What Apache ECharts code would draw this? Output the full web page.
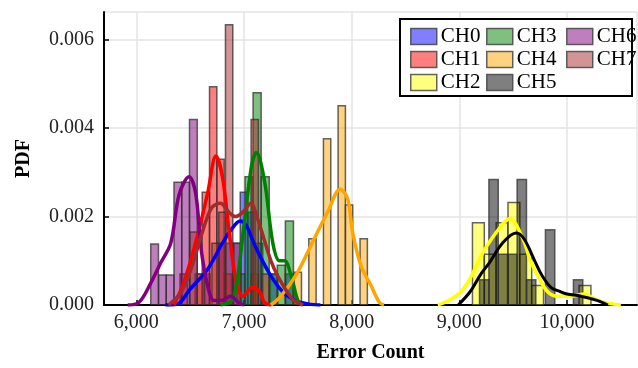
<!DOCTYPE html>
<html>
<head>
<meta charset="utf-8">
<title>ECharts</title>
<script src="https://cdn.jsdelivr.net/npm/echarts@6/dist/echarts.min.js"></script>
</head>
<body style="margin:0;background-color:#fff;">
<div id="main" style="width:638px;height:368px;"></div>
<script type="text/javascript">
var channels = ['CH0', 'CH1', 'CH2', 'CH3', 'CH4', 'CH5', 'CH6', 'CH7'];
var lineColors = ['#0000ff', '#ff0000', '#ffff00', '#008000', '#ffa500', '#000000', '#800080', '#a52a2a'];
var fillColors = ['rgba(0,0,255,0.5)', 'rgba(255,0,0,0.5)', 'rgba(255,255,0,0.5)', 'rgba(0,128,0,0.5)',
                  'rgba(255,165,0,0.5)', 'rgba(0,0,0,0.5)', 'rgba(128,0,128,0.5)', 'rgba(165,42,42,0.5)'];

// histogram bin width (error count units) per channel
var binWidth = [70, 68, 110, 75, 68, 87, 72, 68];

// histogram bins: [bin centre, density]
var histCH0 = [[6650, 0.0007], [6790, 0.0014], [6860, 0.0014], [6930, 0.0014], [7000, 0.00255],
               [7070, 0.0021], [7140, 0.0014], [7280, 0.0007], [7420, 0.0007]];
var histCH1 = [[6440, 0.0007], [6580, 0.0007], [6646, 0.00255], [6714, 0.00494], [6782, 0.0033],
               [6850, 0.0007], [7100, 0.0007]];
var histCH2 = [[9177, 0.00186], [9287, 0.00115], [9397, 0.00186], [9507, 0.00232], [9617, 0.00115],
               [9727, 0.00044], [10167, 0.00044]];
var histCH3 = [[6972, 0.0007], [7047, 0.0029], [7122, 0.0048], [7197, 0.0029], [7272, 0.0007],
               [7347, 0.0009], [7422, 0.0019]];
var histCH4 = [[7500, 0.00074], [7636, 0.0015], [7772, 0.00376], [7908, 0.00451], [7976, 0.00226],
               [8112, 0.0015]];
var histCH5 = [[9231, 0.00057], [9318, 0.00284], [9405, 0.00115], [9492, 0.00115], [9580, 0.00284],
               [9667, 0.00057], [9843, 0.0017], [10103, 0.00057]];
var histCH6 = [[6170, 0.00138], [6242, 0.00068], [6314, 0.00068], [6386, 0.00278], [6458, 0.00278],
               [6530, 0.0042]];
var histCH7 = [[6532, 0.00165], [6600, 0.0007], [6736, 0.0014], [6800, 0.0021], [6862, 0.00634],
               [6940, 0.0014], [7100, 0.0042], [7200, 0.0007]];

// kernel density curves: [error count, density]
var kdeCH0 = [[6270, 0], [6380, 0.00002], [6500, 0.00036], [6660, 0.0008], [6800, 0.0014], [6880, 0.0017],
              [6965, 0.0019], [7020, 0.0018], [7110, 0.0013], [7240, 0.0007], [7360, 0.0003], [7480, 0.0001],
              [7600, 0.00002], [7710, 0]];
var kdeCH1 = [[6350, 0], [6440, 0.0005], [6550, 0.0014], [6660, 0.0025], [6740, 0.00337], [6800, 0.0029],
              [6865, 0.0016], [6930, 0.0005], [6990, 0.0002], [7080, 0.0004], [7145, 0.0003], [7190, 0.00006],
              [7250, 0]];
var kdeCH2 = [[8800, 0], [8900, 0.0001], [9016, 0.0003], [9100, 0.0006], [9200, 0.0011], [9330, 0.0016],
              [9470, 0.00195], [9590, 0.0015], [9660, 0.001], [9730, 0.00066], [9820, 0.0003], [9914, 0.0002],
              [10040, 0.0002], [10160, 0.00025], [10250, 0.00015], [10345, 0.00006], [10500, 0]];
var kdeCH3 = [[6780, 0], [6900, 0.00015], [6990, 0.0016], [7067, 0.0031], [7115, 0.00345], [7191, 0.0028],
              [7268, 0.0014], [7330, 0.001], [7377, 0.001], [7438, 0.00066], [7500, 0.0001], [7540, 0]];
var kdeCH4 = [[7250, 0], [7344, 0.0002], [7498, 0.00074], [7652, 0.0015], [7776, 0.0021], [7894, 0.00262],
              [7963, 0.0024], [8009, 0.00164], [8086, 0.00089], [8180, 0.00044], [8257, 0.00006], [8300, 0]];
var kdeCH5 = [[8990, 0], [9100, 0.0003], [9200, 0.0007], [9280, 0.00096], [9400, 0.0014], [9527, 0.00163],
              [9600, 0.0015], [9700, 0.001], [9760, 0.0007], [9850, 0.0004], [9940, 0.0003], [10000, 0.00025],
              [10130, 0.0002], [10285, 0.0001], [10380, 0]];
var kdeCH6 = [[5920, 0], [6020, 0.00005], [6135, 0.0005], [6228, 0.00096], [6320, 0.0014], [6398, 0.0025],
              [6490, 0.0029], [6553, 0.0025], [6600, 0.0013], [6662, 0.00044], [6723, 0.0001], [6790, 0.0001],
              [6878, 0.0002], [6950, 0.00005], [7000, 0]];
var kdeCH7 = [[6300, 0], [6420, 0.0003], [6520, 0.0009], [6620, 0.0017], [6700, 0.0022], [6780, 0.0023],
              [6860, 0.0021], [6920, 0.002], [6990, 0.0021], [7064, 0.0023], [7120, 0.002], [7185, 0.0015],
              [7250, 0.001], [7315, 0.00065], [7400, 0.0003], [7464, 0.0001], [7550, 0]];

var hists = [histCH0, histCH1, histCH2, histCH3, histCH4, histCH5, histCH6, histCH7];
var kdes = [kdeCH0, kdeCH1, kdeCH2, kdeCH3, kdeCH4, kdeCH5, kdeCH6, kdeCH7];

var yTickLabels = ['0.000', '0.002', '0.004', '0.006'];

var serif = "'Liberation Serif', 'DejaVu Serif', serif";

function histSeries(i) {
    var w = binWidth[i];
    return {
        name: channels[i],
        type: 'custom',
        z: 2,
        clip: true,
        itemStyle: { color: fillColors[i] },
        encode: { x: 0, y: 1 },
        data: hists[i],
        renderItem: function (params, api) {
            var c = api.value(0), h = api.value(1);
            var p0 = api.coord([c - w / 2, h]);
            var p1 = api.coord([c + w / 2, 0]);
            return {
                type: 'rect',
                shape: { x: p0[0], y: p0[1], width: p1[0] - p0[0], height: p1[1] - p0[1] },
                style: { fill: fillColors[i], stroke: 'rgba(50,50,50,0.75)', lineWidth: 1.5 }
            };
        }
    };
}

function kdeSeries(i) {
    return {
        name: channels[i] + ' kde',
        type: 'line',
        z: 3,
        smooth: 0.35,
        showSymbol: false,
        silent: true,
        data: kdes[i],
        lineStyle: { color: lineColors[i], width: i == 5 ? 3 : 3.5 },
        itemStyle: { color: lineColors[i] }
    };
}

var series = [];
for (var i = 0; i < channels.length; i++) series.push(histSeries(i));
for (var i = 0; i < channels.length; i++) series.push(kdeSeries(i));

function legendItems(idx) {
    return idx.map(function (i) {
        return { name: channels[i], itemStyle: { color: fillColors[i], borderColor: 'rgba(60,60,60,0.8)', borderWidth: 1.5 } };
    });
}
var legendBase = {
    orient: 'vertical',
    top: 21,
    icon: 'rect',
    itemWidth: 26,
    itemHeight: 16,
    itemGap: 2,
    selectedMode: false,
    z: 12,
    textStyle: { fontFamily: serif, fontSize: 21, color: '#000', lineHeight: 21, padding: [0, 0, 0, -1] }
};

var option = {
    animation: false,
    backgroundColor: '#fff',
    grid: { left: 104, right: 1, top: 12, bottom: 62 },
    legend: [
        Object.assign({}, legendBase, { left: 405, data: legendItems([0, 1, 2]) }),
        Object.assign({}, legendBase, { left: 481, data: legendItems([3, 4, 5]) }),
        Object.assign({}, legendBase, { left: 561, data: legendItems([6, 7]) })
    ],
    graphic: [{
        type: 'rect',
        z: 11,
        shape: { x: 400, y: 19, width: 232, height: 77 },
        style: { fill: '#fff', stroke: '#000', lineWidth: 2 }
    }],
    xAxis: {
        type: 'value',
        min: 5700,
        max: 10650,
        splitNumber: 5,
        name: 'Error Count',
        nameLocation: 'middle',
        nameGap: 38,
        nameTextStyle: { fontFamily: serif, fontSize: 20, fontWeight: 'bold', color: '#000' },
        axisLine: { onZero: false, lineStyle: { color: '#000', width: 2 } },
        axisTick: { inside: true, length: 5, lineStyle: { color: '#000', width: 1.5 } },
        axisLabel: {
            fontFamily: serif, fontSize: 20, color: '#222', margin: 8,
            showMinLabel: false, showMaxLabel: false,
            formatter: function (v) { return v.toLocaleString('en-US'); }
        },
        splitLine: { show: true, lineStyle: { color: '#e4e4e4', width: 1.5 } }
    },
    yAxis: {
        type: 'value',
        min: 0,
        max: 0.00663,
        interval: 0.002,
        name: 'PDF',
        nameLocation: 'middle',
        nameGap: 70,
        nameTextStyle: { fontFamily: serif, fontSize: 20, fontWeight: 'bold', color: '#000' },
        axisLine: { show: true, lineStyle: { color: '#000', width: 2 } },
        axisTick: { show: true, inside: true, length: 5, lineStyle: { color: '#000', width: 1.5 } },
        axisLabel: {
            fontFamily: serif, fontSize: 20, color: '#222', margin: 10, showMaxLabel: false,
            formatter: function (v) {
                var k = Math.round(v / 0.002);
                return yTickLabels[k] !== undefined && Math.abs(v - k * 0.002) < 1e-9 ? yTickLabels[k] : '';
            }
        },
        splitLine: { show: true, lineStyle: { color: '#e4e4e4', width: 1.5 } }
    },
    series: series
};

var myChart = echarts.init(document.getElementById('main'));
myChart.setOption(option);
</script>
</body>
</html>
